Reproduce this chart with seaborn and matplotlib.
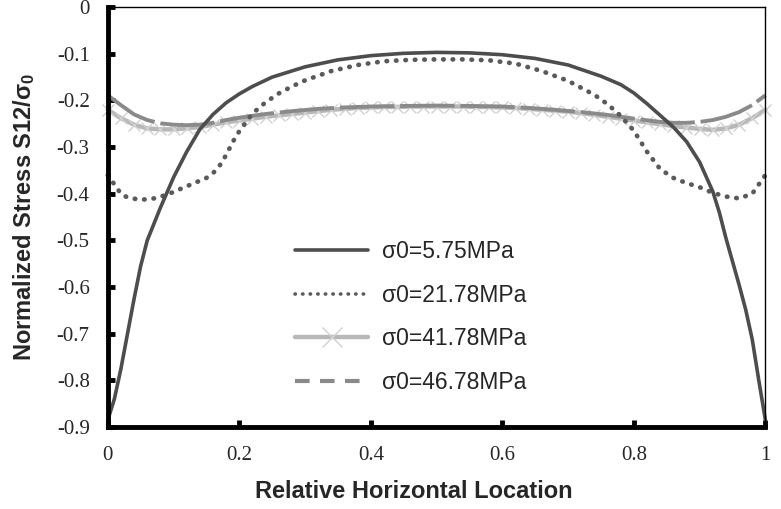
import numpy as np
import pandas as pd
import matplotlib
matplotlib.use("Agg")
import matplotlib.pyplot as plt
from matplotlib.lines import Line2D
import seaborn as sns

# ---------------- data ----------------
x_575 = [0.00, 0.01, 0.02, 0.03, 0.04, 0.05, 0.06, 0.08, 0.10, 0.12, 0.14, 0.16, 0.18,
         0.20, 0.22, 0.25, 0.30, 0.35, 0.40, 0.45, 0.50, 0.55, 0.60, 0.65, 0.70, 0.75,
         0.78, 0.80, 0.82, 0.84, 0.86, 0.88, 0.90, 0.92, 0.93, 0.94, 0.96, 0.97, 0.98,
         0.99, 1.00]
y_575 = [-0.885, -0.84, -0.775, -0.70, -0.625, -0.555, -0.50, -0.43, -0.365, -0.310, -0.262,
         -0.230, -0.205, -0.186, -0.170, -0.150, -0.128, -0.113, -0.104, -0.099, -0.097,
         -0.098, -0.102, -0.110, -0.124, -0.148, -0.166, -0.184, -0.207, -0.232, -0.257,
         -0.288, -0.332, -0.395, -0.440, -0.495, -0.595, -0.648, -0.712, -0.800, -0.885]

x_2178 = [0.00, 0.01, 0.02, 0.03, 0.05, 0.07, 0.09, 0.11, 0.13, 0.15, 0.16, 0.17, 0.18,
          0.19, 0.20, 0.22, 0.24, 0.26, 0.28, 0.30, 0.34, 0.38, 0.42, 0.46, 0.50, 0.54,
          0.58, 0.62, 0.66, 0.70, 0.74, 0.76, 0.78, 0.80, 0.82, 0.84, 0.86, 0.88, 0.90,
          0.92, 0.94, 0.96, 0.98, 1.00]
y_2178 = [-0.360, -0.380, -0.400, -0.408, -0.413, -0.410, -0.402, -0.390, -0.378, -0.366,
          -0.356, -0.340, -0.317, -0.289, -0.266, -0.228, -0.204, -0.185, -0.170, -0.157,
          -0.137, -0.124, -0.116, -0.113, -0.112, -0.112, -0.114, -0.121, -0.137, -0.158,
          -0.188, -0.208, -0.233, -0.265, -0.310, -0.347, -0.366, -0.377, -0.386, -0.398,
          -0.406, -0.410, -0.400, -0.360]

x_4178 = [0.00, 0.02, 0.04, 0.06, 0.08, 0.10, 0.12, 0.14, 0.16, 0.18, 0.20, 0.22, 0.24,
          0.26, 0.28, 0.30, 0.32, 0.34, 0.36, 0.38, 0.40, 0.42, 0.44, 0.46, 0.48, 0.50,
          0.52, 0.54, 0.56, 0.58, 0.60, 0.62, 0.64, 0.66, 0.68, 0.70, 0.72, 0.74, 0.76,
          0.78, 0.80, 0.82, 0.84, 0.86, 0.88, 0.90, 0.92, 0.94, 0.96, 0.98, 1.00]
y_4178 = [-0.220, -0.238, -0.252, -0.260, -0.262, -0.262, -0.260, -0.257, -0.252, -0.247,
          -0.243, -0.239, -0.235, -0.232, -0.229, -0.226, -0.223, -0.220, -0.218, -0.216,
          -0.215, -0.214, -0.214, -0.213, -0.213, -0.213, -0.213, -0.213, -0.214, -0.214,
          -0.215, -0.216, -0.218, -0.220, -0.222, -0.224, -0.227, -0.231, -0.235, -0.239,
          -0.243, -0.247, -0.251, -0.255, -0.258, -0.261, -0.263, -0.260, -0.252, -0.238,
          -0.220]

x_4678 = [0.00, 0.02, 0.04, 0.06, 0.08, 0.10, 0.12, 0.14, 0.16, 0.18, 0.20, 0.24, 0.28,
          0.32, 0.36, 0.40, 0.44, 0.50, 0.56, 0.60, 0.64, 0.68, 0.72, 0.76, 0.80, 0.84,
          0.86, 0.88, 0.90, 0.92, 0.94, 0.96, 0.98, 1.00]
y_4678 = [-0.189, -0.210, -0.230, -0.242, -0.249, -0.252, -0.253, -0.252, -0.248, -0.242,
          -0.237, -0.229, -0.223, -0.218, -0.215, -0.213, -0.212, -0.211, -0.212, -0.213,
          -0.216, -0.220, -0.225, -0.231, -0.239, -0.246, -0.248, -0.248, -0.246, -0.242,
          -0.235, -0.225, -0.210, -0.189]

labels = ["σ0=5.75MPa", "σ0=21.78MPa", "σ0=41.78MPa", "σ0=46.78MPa"]
x_ticks = [0, 0.2, 0.4, 0.6, 0.8, 1]
x_ticklabels = ["0", "0.2", "0.4", "0.6", "0.8", "1"]
y_ticks = [0, -0.1, -0.2, -0.3, -0.4, -0.5, -0.6, -0.7, -0.8, -0.9]
y_ticklabels = ["0", "-0.1", "-0.2", "-0.3", "-0.4", "-0.5", "-0.6", "-0.7", "-0.8", "-0.9"]

# ---------------- styling ----------------
sns.set_theme(style="white")
plt.rcParams["font.family"] = ["Liberation Sans", "DejaVu Sans"]
plt.rcParams["mathtext.fontset"] = "custom"
plt.rcParams["mathtext.rm"] = "Liberation Sans"
plt.rcParams["mathtext.bf"] = "Liberation Sans:bold"
plt.rcParams["mathtext.it"] = "Liberation Sans:italic"

fig = plt.figure(figsize=(7.81, 5.09), dpi=100)
ax = fig.add_axes([0.138, 0.161, 0.842, 0.825])

c_575 = "#4d4d4d"
c_2178 = "#5a5a5a"
c_4178 = "#b8b8b8"
c_4678 = "#8a8a8a"

df1 = pd.DataFrame({"x": x_575, "y": y_575})
df2 = pd.DataFrame({"x": x_2178, "y": y_2178})
df3 = pd.DataFrame({"x": x_4178, "y": y_4178})
df4 = pd.DataFrame({"x": x_4678, "y": y_4678})

sns.lineplot(data=df3, x="x", y="y", ax=ax, color=c_4178, linewidth=3.2,
             marker="x", markersize=8, markeredgewidth=1.0, markeredgecolor="#d0d0d0",
             sort=False, estimator=None)
sns.lineplot(data=df4, x="x", y="y", ax=ax, color=c_4678, linewidth=2.8,
             sort=False, estimator=None)
ax.lines[-1].set_dashes((14, 1.5))
sns.lineplot(data=df2, x="x", y="y", ax=ax, color=c_2178, linewidth=3.4,
             sort=False, estimator=None)
ax.lines[-1].set_linestyle((0, (0.1, 1.9)))
ax.lines[-1].set_dash_capstyle("round")
sns.lineplot(data=df1, x="x", y="y", ax=ax, color=c_575, linewidth=2.6,
             sort=False, estimator=None)

for ln in ax.lines:
    ln.set_clip_on(False)

ax.set_xlim(0, 1)
ax.set_ylim(-0.9, 0)
ax.set_xticks(x_ticks)
ax.set_xticklabels(x_ticklabels, fontfamily="Liberation Serif", fontsize=15)
ax.set_yticks(y_ticks)
ax.set_yticklabels(y_ticklabels, fontfamily="Liberation Serif", fontsize=15)
ax.tick_params(axis="both", direction="in", length=5, width=3.5, color="black",
               left=True, bottom=True)
ax.tick_params(axis="x", pad=14)
ax.tick_params(axis="y", pad=13)

for side in ["left", "bottom"]:
    ax.spines[side].set_linewidth(3.5)
    ax.spines[side].set_color("black")
for side in ["top", "right"]:
    ax.spines[side].set_linewidth(1.0)
    ax.spines[side].set_color("black")

ax.set_xlabel("Relative Horizontal Location", fontsize=17, fontweight="bold")
ax.xaxis.set_label_coords(0.466, -0.127)
ax.set_ylabel(r"Normalized Stress S12/$\mathbf{\sigma}_\mathbf{0}$", fontsize=17,
              fontweight="bold", labelpad=14)

handles = [
    Line2D([], [], color=c_575, linewidth=2.6),
    Line2D([], [], color=c_2178, linewidth=2.6, linestyle=(0, (0.1, 2.0)),
           dash_capstyle="round"),
    Line2D([], [], color=c_4178, linewidth=3.2, marker="x", markersize=14,
           markeredgecolor="#d0d0d0", markeredgewidth=1.0),
    Line2D([], [], color=c_4678, linewidth=3.0, linestyle=(0, (3.5, 2.5))),
]
leg = ax.legend(handles, labels, loc="upper left", bbox_to_anchor=(295 / 781, 1 - 240 / 509),
                bbox_transform=fig.transFigure, frameon=False, fontsize=16.5, numpoints=1,
                handlelength=3.2, handletextpad=0.6, labelspacing=0.9, borderpad=0,
                borderaxespad=0)

fig.savefig("out.png", dpi=100, facecolor="white")
